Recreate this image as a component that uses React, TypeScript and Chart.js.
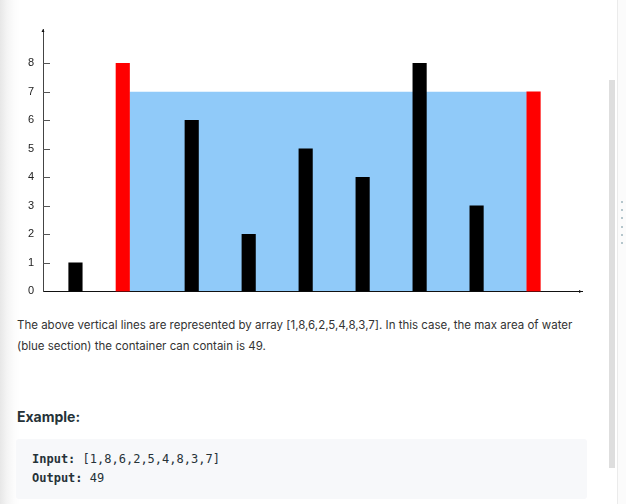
import React, { useEffect, useRef } from "react";
import { Chart, registerables } from "chart.js";

Chart.register(...registerables);

// Data
const heights = [1, 8, 6, 2, 5, 4, 8, 3, 7];
const positions = [-0.04, 0.79, 2, 3, 4, 5, 6, 7, 8];
const yTickValues = [0, 1, 2, 3, 4, 5, 6, 7, 8];
const arrayLabel = "[" + heights.join(",") + "]";

function bestPair(h: number[]): [number, number, number] {
  let best = -1;
  let bi = 0;
  let bj = 0;
  for (let i = 0; i < h.length; i++) {
    for (let j = i + 1; j < h.length; j++) {
      const area = (j - i) * Math.min(h[i], h[j]);
      if (area > best) {
        best = area;
        bi = i;
        bj = j;
      }
    }
  }
  return [bi, bj, best];
}

const [pairLeft, pairRight, maxArea] = bestPair(heights);

const waterPlugin = {
  id: "water",
  beforeDatasetsDraw(chart: any) {
    const ctx = chart.ctx;
    const meta = chart.getDatasetMeta(0);
    const a = meta.data[pairLeft];
    const b = meta.data[pairRight];
    const left = a.x + a.width / 2;
    const right = b.x - b.width / 2;
    const yS = chart.scales.y;
    const top = yS.getPixelForValue(Math.min(heights[pairLeft], heights[pairRight]));
    const bottom = Math.floor(yS.getPixelForValue(0));
    ctx.save();
    ctx.fillStyle = "#90CAF9";
    ctx.fillRect(left, top, right - left, bottom - top);
    ctx.restore();
  },
  afterDraw(chart: any) {
    const ctx = chart.ctx;
    const { left, top, right, bottom } = chart.chartArea;
    const yS = chart.scales.y;
    ctx.save();
    ctx.strokeStyle = "#555";
    ctx.lineWidth = 1;
    yTickValues.forEach((v) => {
      if (v === 0) return;
      const y = Math.round(yS.getPixelForValue(v)) + 0.5;
      ctx.beginPath();
      ctx.moveTo(left, y);
      ctx.lineTo(left + 7, y);
      ctx.stroke();
    });
    ctx.fillStyle = "#111";
    ctx.beginPath();
    ctx.moveTo(left - 1.5, top + 3);
    ctx.lineTo(left + 1.5, top + 3);
    ctx.lineTo(left, top);
    ctx.closePath();
    ctx.fill();
    ctx.beginPath();
    ctx.moveTo(right - 3, bottom - 1.5);
    ctx.lineTo(right - 3, bottom + 1.5);
    ctx.lineTo(right, bottom);
    ctx.closePath();
    ctx.fill();
    ctx.restore();
  },
};

function WaterChart() {
  const ref = useRef<HTMLCanvasElement | null>(null);
  useEffect(() => {
    if (!ref.current) return;
    const colors = heights.map((_, i) =>
      i === pairLeft || i === pairRight ? "#ff0000" : "#000000"
    );
    const chart = new Chart(ref.current, {
      type: "bar",
      data: {
        datasets: [
          {
            data: positions.map((x, i) => ({ x, y: heights[i] })) as any,
            backgroundColor: colors,
            borderWidth: 0,
            barThickness: 13.5,
          },
        ],
      },
      options: {
        animation: false,
        responsive: false,
        maintainAspectRatio: false,
        layout: { padding: { left: 0, top: 29, right: 44, bottom: 1.5 } },
        plugins: { legend: { display: false }, tooltip: { enabled: false } },
        scales: {
          x: {
            type: "linear",
            min: -0.61,
            max: 8.85,
            offset: false,
            grid: { display: false, drawTicks: false },
            ticks: { display: false },
            border: { display: true, color: "#111", width: 1 },
            afterFit: (s: any) => {
              s.height = 0;
            },
          },
          y: {
            min: 0,
            max: 9.2,
            grid: { display: false, drawTicks: false },
            border: { display: true, color: "#444", width: 1 },
            ticks: {
              padding: 9,
              color: "#222",
              font: { family: "'Liberation Sans', Arial, sans-serif", size: 11 },
            },
            afterBuildTicks: (s: any) => {
              s.ticks = yTickValues.map((v) => ({ value: v }));
            },
            afterFit: (s: any) => {
              s.width = 43;
            },
          },
        },
      } as any,
      plugins: [waterPlugin],
    });
    return () => chart.destroy();
  }, []);
  return (
    <canvas
      ref={ref}
      width={626}
      height={307}
      style={{ position: "absolute", left: 0, top: 0, width: 626, height: 307 }}
    />
  );
}

export default function App() {
  const textFont = "Inter, 'Noto Sans', sans-serif";
  const mono = "'DejaVu Sans Mono', monospace";
  return (
    <div
      style={{
        position: "fixed",
        left: 0,
        top: 0,
        width: 626,
        height: 504,
        background: "#fff",
        overflow: "hidden",
      }}
    >
      <div
        style={{
          position: "absolute",
          left: 0,
          top: 0,
          width: 20,
          height: 504,
          background: "linear-gradient(to right, #e7e7e7 0px, #f4f4f4 7px, #fcfcfc 14px, #ffffff 20px)",
        }}
      />
      <WaterChart />
      <div
        style={{
          position: "absolute",
          left: 17,
          top: 315,
          fontFamily: textFont,
          fontSize: 11.5,
          lineHeight: "20.7px",
          color: "#333",
          whiteSpace: "nowrap",
        }}
      >
        The above vertical lines are represented by array {arrayLabel}. In this case, the max area of water
        <br />
        (blue section) the container can contain is {maxArea}.
      </div>
      <div
        style={{
          position: "absolute",
          left: 17,
          top: 406,
          fontFamily: textFont,
          fontSize: 14,
          fontWeight: 700,
          lineHeight: "22px",
          color: "#263238",
        }}
      >
        Example:
      </div>
      <div
        style={{
          position: "absolute",
          left: 16,
          top: 439,
          width: 571,
          height: 60,
          background: "#f7f8fa",
          borderRadius: 3,
        }}
      />
      <div
        style={{
          position: "absolute",
          left: 32,
          top: 450,
          fontFamily: mono,
          fontSize: 12,
          lineHeight: "19px",
          color: "#263238",
          whiteSpace: "pre",
        }}
      >
        <b>Input:</b> {arrayLabel}
        <br />
        <b>Output:</b> {maxArea}
      </div>
      <div
        style={{
          position: "absolute",
          left: 609,
          top: 80,
          width: 6,
          height: 388,
          background: "#dedede",
        }}
      />
      <div
        style={{
          position: "absolute",
          left: 617,
          top: 0,
          width: 9,
          height: 504,
          background: "#fbfbfb",
          borderLeft: "1px solid #ebebeb",
        }}
      />
      {[0, 1, 2, 3, 4, 5].map((k) => (
        <div
          key={k}
          style={{
            position: "absolute",
            left: 621,
            top: 201 + k * 8.2,
            width: 2,
            height: 2,
            background: "#b5c6cc",
          }}
        />
      ))}
    </div>
  );
}
